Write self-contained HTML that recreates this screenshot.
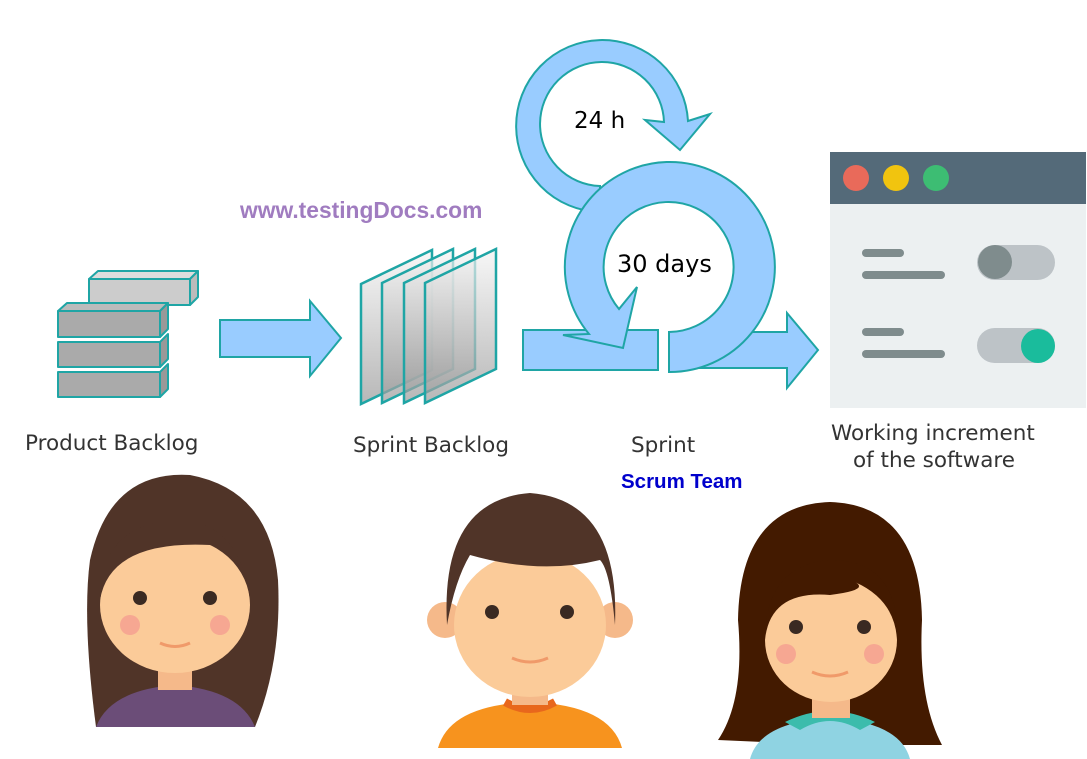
<!DOCTYPE html>
<html><head><meta charset="utf-8"><style>
html,body{margin:0;padding:0;background:#fff;}
svg{display:block;}
text{font-family:"DejaVu Sans","Liberation Sans",sans-serif;}
</style></head><body>
<svg width="1087" height="759" viewBox="0 0 1087 759" xmlns="http://www.w3.org/2000/svg">
<defs>
<linearGradient id="sh" x1="0" y1="0" x2="0" y2="1"><stop offset="0" stop-color="#f4f4f4" stop-opacity="0.7"/><stop offset="1" stop-color="#999" stop-opacity="0.7"/></linearGradient>
</defs>
<g stroke="#1fa5a5" stroke-width="2" stroke-linejoin="round">
 <polygon points="89,279 98,271 198,271 190,279" fill="#ddd"/><polygon points="190,279 198,271 198,297 190,305" fill="#bbb"/><rect x="89" y="279" width="101" height="26" fill="#ccc"/>
 <polygon points="58,311 67,303 168,303 160,311" fill="#bbb"/><polygon points="160,311 168,303 168,329 160,337" fill="#999"/><rect x="58" y="311" width="102" height="26" fill="#aaa"/>
 <polygon points="160,342 168,334 168,359 160,367" fill="#999"/><rect x="58" y="342" width="102" height="25" fill="#aaa"/>
 <polygon points="160,372 168,364 168,389 160,397" fill="#999"/><rect x="58" y="372" width="102" height="25" fill="#aaa"/>
</g>
<polygon points="220,320 310,320 310,301 341,338 310,376 310,357 220,357" fill="#99ccff" stroke="#1fa5a5" stroke-width="2"/>
<g stroke="#1fa5a5" stroke-width="2.5" fill="url(#sh)">
 <polygon points="361,284 432,250 432,370 361,404"/>
 <polygon points="382,283 453,249 453,369 382,403"/>
 <polygon points="404,283 475,249 475,369 404,403"/>
 <polygon points="425,283 496,249 496,369 425,403"/>
</g>
<g fill="#99ccff" stroke="#1fa5a5" stroke-width="2" stroke-linejoin="miter">
 <path d="M600,212 A86,86 0 1 1 688,121 L710,114 L680,150 L645,120 L664,122 A62,62 0 1 0 600,186 Z"/>
 <polygon points="695,332 787,332 787,313 818,350 787,388 787,368 695,368"/>
 <rect x="523" y="330" width="135" height="40"/>
 <path d="M669,372 A105,105 0 1 0 589,334 L563,335 L623,348 L637,287 L619,309 A65,65 0 1 1 669,332 Z"/>
</g>
<text x="574" y="128" font-size="23" fill="#000" font-weight="500">24 h</text>
<text x="617" y="272" font-size="24" fill="#000">30 days</text>
<rect x="830" y="152" width="256" height="256" fill="#ecf0f1"/>
<rect x="830" y="152" width="256" height="52" fill="#546a79"/>
<circle cx="856" cy="178" r="13" fill="#e96a5a"/><circle cx="896" cy="178" r="13" fill="#f1c40f"/><circle cx="936" cy="178" r="13" fill="#3dbd73"/>
<g fill="#7f8c8d"><rect x="862" y="249" width="42" height="8" rx="4"/><rect x="862" y="271" width="83" height="8" rx="4"/><rect x="862" y="328" width="42" height="8" rx="4"/><rect x="862" y="350" width="83" height="8" rx="4"/></g>
<rect x="977" y="245" width="78" height="35" rx="17.5" fill="#bdc3c7"/><circle cx="995" cy="262" r="17" fill="#7f8c8d"/>
<rect x="977" y="328" width="78" height="35" rx="17.5" fill="#bdc3c7"/><circle cx="1038" cy="346" r="17" fill="#1abc9c"/>
<text x="240" y="218" font-weight="bold" font-size="22.8" fill="#a07cc0" style="font-family:'Liberation Sans',sans-serif">www.testingDocs.com</text>
<g font-size="21.5" fill="#333">
<text x="25" y="450">Product Backlog</text>
<text x="353" y="452">Sprint Backlog</text>
<text x="631" y="452">Sprint</text>
<text x="831" y="440">Working increment</text>
<text x="853" y="467">of the software</text>
</g>
<text x="621" y="488" font-weight="bold" font-size="20.5" fill="#0000cc" style="font-family:'Liberation Sans',sans-serif">Scrum Team</text>
<path d="M96,727 Q82,620 90,560 Q110,470 190,475 Q270,490 278,580 Q282,660 255,727 Z" fill="#503428"/>
<path d="M96,727 Q110,690 175,685 Q240,690 255,727 Z" fill="#6b4d78"/>
<rect x="158" y="660" width="34" height="30" fill="#f5b98a"/>
<ellipse cx="175" cy="605" rx="75" ry="68" fill="#fbcb99"/>
<path d="M100,600 Q110,540 210,545 Q250,560 250,600 Q240,520 175,520 Q100,525 100,600Z" fill="#503428"/>
<circle cx="140" cy="598" r="7" fill="#3a2a22"/><circle cx="210" cy="598" r="7" fill="#3a2a22"/>
<circle cx="130" cy="625" r="10" fill="#f6a792"/><circle cx="220" cy="625" r="10" fill="#f6a792"/>
<path d="M160,643 Q175,650 190,643" stroke="#f09a6a" stroke-width="3" fill="none"/>
<path d="M438,748 Q450,705 530,702 Q610,705 622,748 Z" fill="#f7931e"/>
<path d="M505,702 Q530,716 555,702" stroke="#e8671c" stroke-width="8" fill="none"/>
<rect x="512" y="680" width="36" height="25" fill="#f5b98a"/>
<circle cx="445" cy="620" r="18" fill="#f5b98a"/><circle cx="615" cy="620" r="18" fill="#f5b98a"/>
<ellipse cx="530" cy="625" rx="76" ry="72" fill="#fbcb99"/>
<path d="M447,625 Q440,500 530,493 Q620,500 615,625 Q610,570 600,560 Q540,575 470,555 Q455,580 447,625Z" fill="#503428"/>
<circle cx="492" cy="612" r="7" fill="#3a2a22"/><circle cx="567" cy="612" r="7" fill="#3a2a22"/>
<path d="M512,658 Q530,666 548,658" stroke="#f09a6a" stroke-width="3" fill="none"/>
<path d="M718,740 Q745,700 738,620 Q740,505 830,502 Q920,505 922,620 Q918,700 942,745 L830,745 Z" fill="#431a00"/>
<path d="M750,759 Q760,722 830,718 Q900,722 910,759 Z" fill="#8fd3e2"/>
<path d="M785,722 Q830,700 875,722 L860,730 Q830,712 800,730Z" fill="#3cbcac"/>
<rect x="812" y="690" width="38" height="28" fill="#f5b98a"/>
<ellipse cx="831" cy="640" rx="66" ry="62" fill="#fbcb99"/>
<path d="M765,640 Q770,590 830,595 Q870,590 855,582 Q895,600 897,640 Q900,560 830,560 Q765,565 765,640Z" fill="#431a00"/>
<circle cx="796" cy="627" r="7" fill="#3a2a22"/><circle cx="864" cy="627" r="7" fill="#3a2a22"/>
<circle cx="786" cy="654" r="10" fill="#f6a792"/><circle cx="874" cy="654" r="10" fill="#f6a792"/>
<path d="M812,672 Q830,680 848,672" stroke="#f09a6a" stroke-width="3" fill="none"/>
</svg>
</body></html>
